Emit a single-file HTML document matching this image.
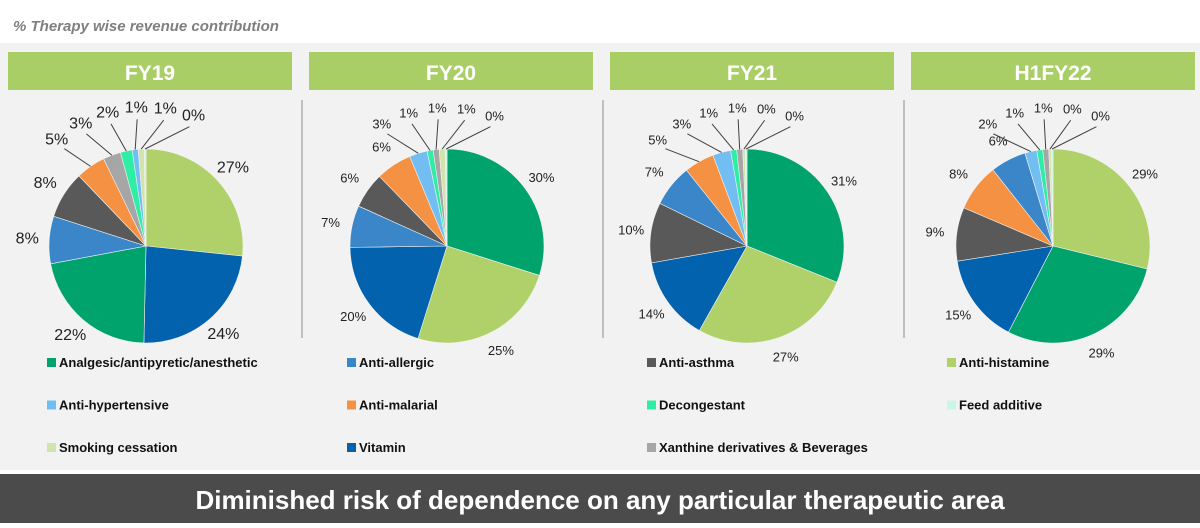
<!DOCTYPE html>
<html><head><meta charset="utf-8"><style>
body{margin:0;width:1200px;height:523px;background:#fff;overflow:hidden;font-family:"Liberation Sans",sans-serif}
</style></head><body>
<svg width="1200" height="523" xmlns="http://www.w3.org/2000/svg">
<text x="13" y="31" font-size="15" font-style="italic" font-weight="bold" fill="#7f7f7f">% Therapy wise revenue contribution</text>
<rect x="0" y="43" width="1200" height="427" fill="#f2f2f2"/>
<rect x="0" y="474" width="1200" height="49" fill="#4b4b4b"/>
<text x="600" y="509" text-anchor="middle" font-size="26" font-weight="bold" fill="#fff">Diminished risk of dependence on any particular therapeutic area</text>
<g id="pies"></g>
<g id="legend"></g>
</svg>
<script>
const categories = ["Analgesic/antipyretic/anesthetic","Anti-allergic","Anti-asthma","Anti-histamine","Anti-hypertensive","Anti-malarial","Decongestant","Feed additive","Smoking cessation","Vitamin","Xanthine derivatives & Beverages"];
const catColors = ["#00a36c","#3a86c8","#595959","#b0d16a","#72bef3","#f49142","#2eeda4","#c9f6e6","#d3e3ad","#0262ae","#a6a6a6"];
const periods = ["FY19","FY20","FY21","H1FY22"];
const fy19Cats = [3,9,0,1,2,5,10,6,4,8,7];
const fy19Vals = [27,24,22,8,8,5,3,2,1,1,0.3];
const fy20Cats = [0,3,9,1,2,5,4,6,10,8,7];
const fy20Vals = [30,25,20,7,6,6,3,1,1,1,0.3];
const fy21Cats = [0,3,9,2,1,5,4,6,10,8,7];
const fy21Vals = [31,27,14,10,7,5,3,1,1,0.4,0.3];
const h1fy22Cats = [3,0,9,2,5,1,4,6,10,8,7];
const h1fy22Vals = [29,29,15,9,8,6,2,1,1,0.4,0.3];
const pieCats=[fy19Cats,fy20Cats,fy21Cats,h1fy22Cats];
const pieVals=[fy19Vals,fy20Vals,fy21Vals,h1fy22Vals];
const NS="http://www.w3.org/2000/svg";
const pies=document.getElementById('pies');
function mk(tag,attrs,parent){const e=document.createElementNS(NS,tag);for(const k in attrs)e.setAttribute(k,attrs[k]);parent.appendChild(e);return e;}
const centersX=[146,447,747,1053], cy=246, R=97;
function pt(a,r,cx){return [cx+r*Math.sin(a),cy-r*Math.cos(a)];}
periods.forEach((p,i)=>{
  const g=mk('g',{},pies);
  
  
  const hx=8+i*301;
  const hb=mk('rect',{x:hx,y:52,width:284,height:38,fill:'#a9ce66'},g);
  
  
  const ht=mk('text',{x:hx+142,y:80,'text-anchor':'middle','font-size':21,'font-weight':'bold',fill:'#fff'},g);
  ht.textContent=p;
  
  
  if(i>0){const d=mk('line',{x1:hx-7,y1:100,x2:hx-7,y2:338,stroke:'#8c8c8c','stroke-width':1},g);
    
    }
  const cx=centersX[i], vals=pieVals[i], cats=pieCats[i];
  const total=vals.reduce((a,b)=>a+b,0);
  let a=0; const mids=[];
  vals.forEach((v,j)=>{
    const a1=a+v/total*2*Math.PI;
    const [x0,y0]=pt(a,R,cx),[x1,y1]=pt(a1,R,cx);
    const path=mk('path',{d:`M${cx},${cy}L${x0},${y0}A${R},${R} 0 ${a1-a>Math.PI?1:0} 1 ${x1},${y1}Z`,fill:catColors[cats[j]],stroke:'#f2f2f2','stroke-width':0.6},g);
    
    
    mids.push((a+a1)/2); a=a1;
  });
  let smallIdx=[];
  vals.forEach((v,j)=>{if(v<6)smallIdx.push(j);});
  const fs=(i==0)?16:13;
  vals.forEach((v,j)=>{
    let la=mids[j], lr=R+20, leader=false;
    const k=smallIdx.indexOf(j);
    if(k>=0){const fromEnd=smallIdx.length-1-k; la=(20-fromEnd*12)*Math.PI/180; lr=R+42; leader=true;}
    else if(v<10){lr=R+22;}
    const [lx,ly]=pt(la,lr,cx);
    if(leader){const [ex,ey]=pt(mids[j],R,cx);const [bx,by]=pt(la,lr-12,cx);
      const l=mk('polyline',{points:`${ex},${ey} ${bx},${by}`,fill:'none',stroke:'#404040','stroke-width':1},g);
      
      }
    const t=mk('text',{x:lx,y:ly+5,'text-anchor':'middle','font-size':fs,fill:'#222'},g);
    t.textContent=Math.round(v)+'%';
    
    
  });
});
const lg=document.getElementById('legend');
categories.forEach((c,j)=>{
  const r2=Math.floor(j/4), c2=j%4;
  const x=47+c2*300, y=362+r2*42.5;
  const g=mk('g',{},lg);
  
  
  mk('rect',{x:x,y:y-4,width:9,height:9,fill:catColors[j]},g);
  const t=mk('text',{x:x+12,y:y+5,'font-size':13,'font-weight':'bold',fill:'#111'},g);
  t.textContent=c;
});
</script>
</body></html>
